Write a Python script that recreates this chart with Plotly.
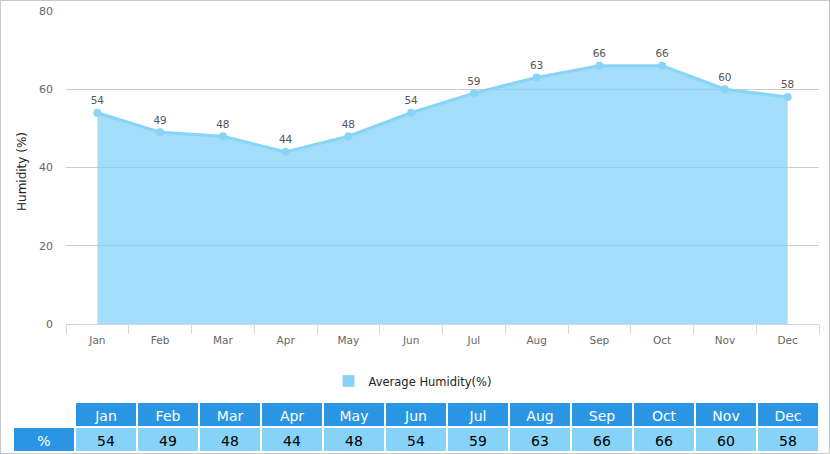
import plotly.graph_objects as go

months = ["Jan", "Feb", "Mar", "Apr", "May", "Jun", "Jul", "Aug", "Sep", "Oct", "Nov", "Dec"]
humidity = [54, 49, 48, 44, 48, 54, 59, 63, 66, 66, 60, 58]
y_ticks = [0, 20, 40, 60, 80]
series_name = "Average Humidity(%)"
row_label = "%"

W, H = 830, 454
FONT = "DejaVu Sans"
DARK = "#2a95e2"
LIGHT = "#87d3f8"

def px_x(v):
    return v / W

def px_y(v):
    return 1 - v / H

fig = go.Figure()

# filled area
fig.add_trace(go.Scatter(
    x=months, y=humidity, mode="none", fill="tozeroy",
    fillcolor="rgba(124,206,247,0.70)", showlegend=False, hoverinfo="skip",
))
# line + markers + labels
fig.add_trace(go.Scatter(
    x=months, y=humidity, mode="lines+markers+text",
    line=dict(color="#87d4f6", width=3),
    marker=dict(color="#87d4f6", size=8),
    text=[str(v) for v in humidity], textposition="top center",
    textfont=dict(family=FONT, size=10.5, color="#555555"),
    showlegend=False,
))
# legend entry (square swatch)
fig.add_trace(go.Bar(
    x=[None], y=[None], name=series_name, marker_color=LIGHT, showlegend=True,
))

# table
fig.add_trace(go.Table(
    domain=dict(x=[px_x(13), px_x(819)], y=[0, px_y(402)]),
    columnwidth=[1] * 13,
    header=dict(
        values=[""] + months,
        fill_color=["white"] + [DARK] * 12,
        line=dict(color="white", width=2),
        font=dict(family=FONT, size=14, color="white"),
        align="center", height=25,
    ),
    cells=dict(
        values=[[row_label]] + [[v] for v in humidity],
        fill_color=[DARK] + [LIGHT] * 12,
        line=dict(color="white", width=2),
        font=dict(family=FONT, size=14, color=["white"] + ["black"] * 12),
        align="center", height=25,
    ),
))

fig.update_layout(
    width=W, height=H, autosize=False,
    margin=dict(l=0, r=0, t=0, b=0, pad=0),
    paper_bgcolor="white", plot_bgcolor="white",
    font=dict(family=FONT, size=11, color="#666666"),
    xaxis=dict(
        domain=[px_x(66), px_x(819)], range=[-0.5, 11.5], automargin=False,
        type="category", tickson="boundaries", ticks="outside",
        ticklen=9, tickcolor="#ccd6eb", showline=True, linecolor="#ccd6eb",
        linewidth=1, showgrid=False, tickfont=dict(size=10.5, color="#666666"),
        ticklabelstandoff=6, fixedrange=True,
    ),
    yaxis=dict(
        domain=[px_y(324), px_y(11)], automargin=False,
        range=[0, 80], tickvals=y_ticks, showgrid=True, gridcolor="#cccccc",
        zeroline=False, showline=False, ticks="", ticklabelstandoff=12,
        tickfont=dict(size=11, color="#666666"), fixedrange=True,
    ),
    legend=dict(
        orientation="h", x=0.497, xanchor="center", y=px_y(381), yanchor="middle",
        font=dict(family=FONT, size=11.5, color="#222222"),
    ),
    annotations=[dict(
        text="Humidity (%)", textangle=-90, x=px_x(22), y=px_y(172),
        xref="paper", yref="paper", xanchor="center", yanchor="middle",
        showarrow=False,
        font=dict(family=FONT, size=12, color="#222222"),
    )],
    shapes=[dict(
        type="rect", xref="paper", yref="paper", x0=0, x1=1, y0=0, y1=1,
        line=dict(color="#c8c8c8", width=2), layer="above",
    )],
)

post = (
    "document.documentElement.style.margin='0';"
    "document.body.style.margin='0';document.body.style.padding='0';"
    "document.body.style.overflow='hidden';"
    "var d=document.getElementById('{plot_id}');"
    "d.style.position='absolute';d.style.left='0px';d.style.top='0px';"
)

fig.write_html("out.html", post_script=post,
               config={"responsive": False, "displayModeBar": False})
